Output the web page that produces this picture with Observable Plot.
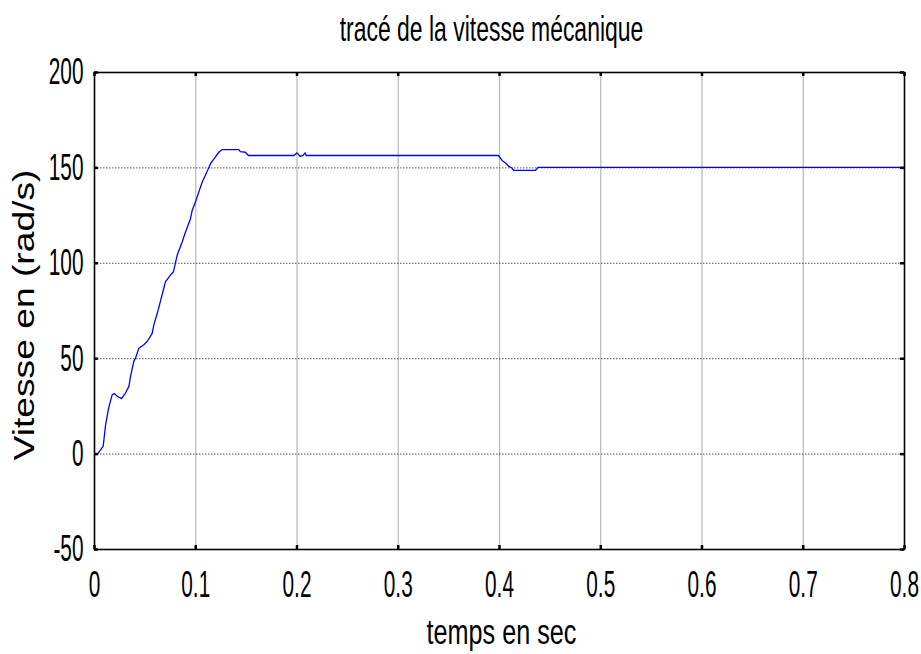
<!DOCTYPE html>
<html>
<head>
<meta charset="utf-8">
<script src="https://cdn.jsdelivr.net/npm/d3@7"></script>
<script src="https://cdn.jsdelivr.net/npm/@observablehq/plot@0.6"></script>
<style>
  html, body { margin: 0; padding: 0; background: #fff; }
  svg { display: block; }
</style>
</head>
<body>
<div id="chart"></div>
<script>
const titleText = "tracé de la vitesse mécanique";
const xLabel = "temps en sec";
const yLabel = "Vitesse en (rad/s)";
const xTicks = [0, 0.1, 0.2, 0.3, 0.4, 0.5, 0.6, 0.7, 0.8];
const yTicks = [-50, 0, 50, 100, 150, 200];
const xGrid = [0.1, 0.2, 0.3, 0.4, 0.5, 0.6, 0.7];
const yGrid = [0, 50, 100, 150];

const timeS = [0, 0.003, 0.0086, 0.011, 0.014, 0.0175, 0.0198, 0.0224, 0.0267, 0.0306,
  0.034, 0.0356, 0.0388, 0.0405, 0.0438, 0.0487, 0.052, 0.057, 0.0586, 0.062,
  0.065, 0.068, 0.070, 0.075, 0.078, 0.0817, 0.0866, 0.0899, 0.0948, 0.0965,
  0.0997, 0.103, 0.1064, 0.111, 0.1146, 0.118, 0.1228, 0.126, 0.1425, 0.144,
  0.149, 0.152, 0.197, 0.200, 0.203, 0.206, 0.208, 0.209, 0.399, 0.4025,
  0.406, 0.409, 0.4126, 0.414, 0.4356, 0.438, 0.8];
const speed = [0, 0, 4.2, 15.5, 24.2, 31.2, 31.7, 30.3, 29.1, 32,
  35.5, 40.7, 48.6, 50.3, 55.5, 57.3, 59, 63.3, 67.7, 73.8,
  79.9, 86, 90.3, 93.8, 95.6, 104.3, 111.2, 116.4, 123.4, 127.8,
  132.1, 137.3, 142.6, 147.8, 152.2, 154.7, 158.2, 159.6, 159.6, 158.5,
  158.2, 156.5, 156.5, 157.9, 156.1, 156.6, 157.9, 156.5, 156.5, 153.9,
  152.6, 150.9, 149.8, 148.7, 148.7, 150.3, 150.3];

const data = timeS.map((t, i) => ({t, v: speed[i]}));
const sans = "'Liberation Sans', Arial, sans-serif";

const plot = Plot.plot({
  width: 921,
  height: 654,
  marginLeft: 94,
  marginRight: 17,
  marginTop: 72,
  marginBottom: 105,
  x: {domain: [0, 0.8], axis: null},
  y: {domain: [-50, 200], axis: null},
  marks: [
    Plot.ruleX(xGrid, {stroke: "#b8b8b8", strokeWidth: 1.2}),
    Plot.ruleY(yGrid, {stroke: "#555", strokeWidth: 1, strokeDasharray: "1.5,1.5"}),
    Plot.line(data, {x: "t", y: "v", stroke: "#0000ff", strokeWidth: 1.3}),
    // inward ticks
    Plot.ruleX(xTicks, {y1: -50, y2: -47.9, stroke: "#000", strokeWidth: 2.5}),
    Plot.ruleX(xTicks, {y1: 200, y2: 197.9, stroke: "#000", strokeWidth: 2.5}),
    Plot.ruleY(yTicks, {x1: 0, x2: 0.004, stroke: "#000", strokeWidth: 2.5}),
    Plot.ruleY(yTicks, {x1: 0.8, x2: 0.796, stroke: "#000", strokeWidth: 2.5}),
    Plot.frame({stroke: "#000", strokeWidth: 1.6}),
    // tick labels
    Plot.text(xTicks, {x: d => d, frameAnchor: "bottom", dy: 36, text: d => String(d),
      fontSize: 26, fontFamily: sans, fill: "#000", lineAnchor: "middle", ariaLabel: () => "xticklabel"}),
    Plot.text(yTicks, {y: d => d, frameAnchor: "left", dx: -11, text: d => String(d), textAnchor: "end",
      fontSize: 26, fontFamily: sans, fill: "#000", lineAnchor: "middle", ariaLabel: () => "yticklabel"}),
    // titles
    Plot.text([titleText], {frameAnchor: "top", dx: -8, dy: -43, text: d => d, fontSize: 28, textAnchor: "middle",
      fontFamily: sans, fill: "#000", lineAnchor: "middle", ariaLabel: () => "title"}),
    Plot.text([xLabel], {frameAnchor: "bottom", dx: 2, dy: 83, text: d => d, fontSize: 28, textAnchor: "middle",
      fontFamily: sans, fill: "#000", lineAnchor: "middle", ariaLabel: () => "xlabel"}),
    Plot.text([yLabel], {frameAnchor: "left", dx: -70, dy: 4, rotate: -90, text: d => d, fontSize: 30,
      textAnchor: "middle", fontFamily: sans, fill: "#000", lineAnchor: "middle", ariaLabel: () => "ylabel"})
  ]
});

// emulate the condensed, vertically stretched lettering of the reference
function stretch(svg, label, sx, sy) {
  svg.querySelectorAll(`text[aria-label="${label}"]`).forEach(t => {
    const tr = t.getAttribute("transform") || "";
    t.setAttribute("transform", (tr + ` scale(${sx},${sy})`).trim());
  });
}
stretch(plot, "xticklabel", 0.8, 1.43);
stretch(plot, "yticklabel", 0.8, 1.43);
stretch(plot, "title", 0.82, 1.25);
stretch(plot, "xlabel", 0.9, 1.25);
stretch(plot, "ylabel", 1.24, 1);

document.getElementById("chart").appendChild(plot);
</script>
</body>
</html>
